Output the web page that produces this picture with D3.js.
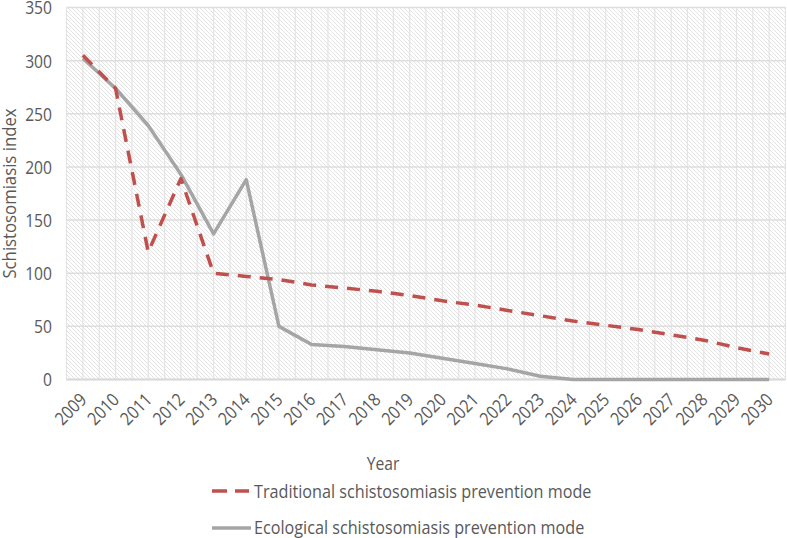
<!DOCTYPE html>
<html><head><meta charset="utf-8">
<script src="https://cdn.jsdelivr.net/npm/d3@7"></script>
<style>
body{margin:0;background:#fff;}
text{font-family:"Open Sans","Noto Sans",sans-serif;fill:#595959;}
</style></head>
<body><svg id="c" width="787" height="538"></svg>
<script>
const years = [2009,2010,2011,2012,2013,2014,2015,2016,2017,2018,2019,2020,2021,2022,2023,2024,2025,2026,2027,2028,2029,2030];
const traditional = [305,274,120,189,100,97,94,89,86,83,79,74,70,65,60,55,51,47,42,37,30,24];
const ecological = [302,274,239,193,137,188,50,33,31,28,25,20,15,10,3,0,0,0,0,0,0,0];
const yTicks = [0,50,100,150,200,250,300,350];
const seriesNames = ["Traditional schistosomiasis prevention mode","Ecological schistosomiasis prevention mode"];
const colors = ["#c0504d","#a5a5a5"];

const svg = d3.select("#c");
const L = 66.5, R = 785.5, T = 7.5, B = 379.5;
const SX = 0.87; // condensed look
const x = d3.scaleBand().domain(years).range([L, R]);
const y = d3.scaleLinear().domain([0,350]).range([B, T]);
const cx = d => x(d) + x.bandwidth()/2;

const defs = svg.append("defs");
const pat = defs.append("pattern").attr("id","hatch").attr("patternUnits","userSpaceOnUse")
  .attr("width",4).attr("height",4);
pat.append("rect").attr("width",4).attr("height",4).attr("fill","#fff");
pat.append("path").attr("d","M-1,-1 L5,5 M-1,3 L1,5 M3,-1 L5,1").attr("stroke","#dcdcdc").attr("stroke-width",0.8);

svg.append("rect").attr("x",L).attr("y",T).attr("width",R-L).attr("height",B-T).attr("fill","url(#hatch)");

// vertical gridlines at category boundaries and centers
const vlines = [];
years.forEach(d => { vlines.push(x(d)); vlines.push(cx(d)); });
vlines.push(R);
svg.append("g").selectAll("line").data(vlines).join("line")
  .attr("x1",d=>d).attr("x2",d=>d).attr("y1",T).attr("y2",B)
  .attr("stroke","#e4e4e4").attr("stroke-width",1.2);

// horizontal gridlines
svg.append("g").selectAll("line").data(yTicks).join("line")
  .attr("x1",L).attr("x2",R).attr("y1",d=>y(d)).attr("y2",d=>y(d))
  .attr("stroke","#dedede").attr("stroke-width",1.5);

// bottom axis line
svg.append("line").attr("x1",L).attr("x2",R).attr("y1",B).attr("y2",B).attr("stroke","#d9d9d9").attr("stroke-width",2);

// y tick labels
svg.append("g").selectAll("text").data(yTicks).join("text")
  .attr("transform",d=>`translate(52,${y(d)+0.5}) scale(${SX},1)`).attr("dy","0.36em").attr("text-anchor","end")
  .attr("font-size",18).text(d=>d);

// x tick labels
svg.append("g").selectAll("text").data(years).join("text")
  .attr("transform",d=>`translate(${cx(d)-4},${392}) rotate(-45) scale(${SX},1)`)
  .attr("text-anchor","end").attr("dy","0.7em").attr("font-size",18).text(d=>d);

// axis titles
svg.append("text").attr("transform",`translate(16,${(T+B)/2}) rotate(-90) scale(0.93,1)`)
  .attr("text-anchor","middle").attr("font-size",18).text("Schistosomiasis index");
svg.append("text").attr("transform",`translate(383,470) scale(${SX},1)`).attr("text-anchor","middle").attr("font-size",18).text("Year");

const line = d3.line().x((d,i)=>cx(years[i])).y(d=>y(d));
svg.append("path").datum(ecological).attr("d",line).attr("fill","none")
  .attr("stroke",colors[1]).attr("stroke-width",3.5).attr("stroke-linejoin","round");
svg.append("path").datum(traditional).attr("d",line).attr("fill","none")
  .attr("stroke",colors[0]).attr("stroke-width",3.5).attr("stroke-dasharray","13,9").attr("stroke-linejoin","round");

// legend
const lg = svg.append("g");
lg.append("line").attr("x1",212).attr("x2",249).attr("y1",491).attr("y2",491)
  .attr("stroke",colors[0]).attr("stroke-width",3.5).attr("stroke-dasharray","15,8");
lg.append("text").attr("transform",`translate(254,497.5) scale(0.9,1)`).attr("font-size",18).text(seriesNames[0]);
lg.append("line").attr("x1",212).attr("x2",251).attr("y1",528).attr("y2",528)
  .attr("stroke",colors[1]).attr("stroke-width",3.5);
lg.append("text").attr("transform",`translate(254,533.5) scale(0.9,1)`).attr("font-size",18).text(seriesNames[1]);
</script></body></html>
